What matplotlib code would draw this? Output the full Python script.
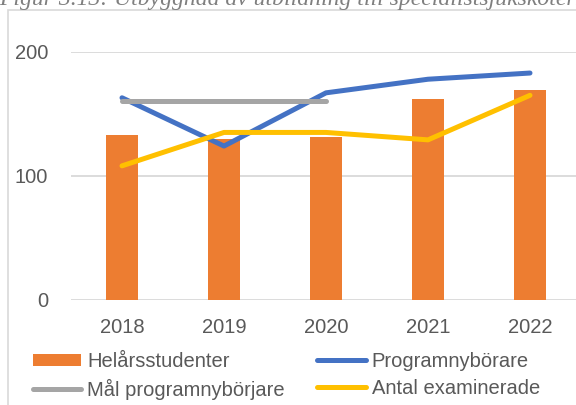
import numpy as np
import matplotlib.pyplot as plt
from matplotlib.patches import Rectangle

years = ["2018", "2019", "2020", "2021", "2022"]
helarsstudenter = [133, 130, 131, 162, 169]
programnyborare = [163, 124, 167, 178, 183]
mal_years = ["2018", "2019", "2020"]
mal_programnyborjare = [160, 160, 160]
antal_examinerade = [108, 135, 135, 129, 165]
yticks = [0, 100, 200]

plt.rcParams["font.family"] = ["Liberation Sans", "DejaVu Sans"]
TXT = "#595959"
FS = 14.5

fig = plt.figure(figsize=(5.76, 4.05), dpi=100)
W, H = 576, 405
ax = fig.add_axes([71 / W, 1 - 299.5 / H, 510 / W, 247.5 / H])

x = np.arange(len(years))
xm = np.arange(len(mal_years))

bars = ax.bar(x, helarsstudenter, width=0.31, color="#ED7D31", zorder=2,
              label="Helårsstudenter")
lw = 3.6
l_blue, = ax.plot(x, programnyborare, color="#4472C4", lw=lw, zorder=3,
                  solid_capstyle="round", solid_joinstyle="round",
                  label="Programnybörare")
l_gray, = ax.plot(xm, mal_programnyborjare, color="#A5A5A5", lw=lw, zorder=4,
                  solid_capstyle="round", label="Mål programnybörjare")
l_yel, = ax.plot(x, antal_examinerade, color="#FFC000", lw=lw, zorder=5,
                 solid_capstyle="round", solid_joinstyle="round",
                 label="Antal examinerade")

ax.set_xlim(-0.5, len(years) - 0.5)
ax.set_ylim(0, 200)
ax.set_yticks(yticks)
ax.set_xticks(x)
ax.set_xticklabels(years)
ax.yaxis.grid(True, color="#D9D9D9", lw=1.3, zorder=0)
ax.set_axisbelow(True)
for s in ax.spines.values():
    s.set_visible(False)
ax.tick_params(axis="both", length=0, labelsize=FS, labelcolor=TXT)
ax.tick_params(axis="y", pad=16.5)
ax.tick_params(axis="x", pad=13)

fig.legend([bars, l_gray, l_blue, l_yel],
           ["Helårsstudenter", "Mål programnybörjare", "Programnybörare", "Antal examinerade"],
           ncol=2, loc="upper left", bbox_to_anchor=(33 / W, 1 - 352 / H),
           frameon=False, fontsize=FS, labelcolor=TXT, borderpad=0,
           borderaxespad=0, handlelength=2.4, handleheight=0.6,
           handletextpad=0.3, columnspacing=1.6, labelspacing=0.4)

# chart border (cropped screenshot)
fig.patches.append(Rectangle((8 / W, -0.2), 1.2, 1.2 - 10 / H,
                             transform=fig.transFigure, fill=False,
                             edgecolor="#D9D9D9", lw=1.2, zorder=0))

fig.text(-1 / W, 1 - 5 / H, "Figur 3.13: Utbyggnad av utbildning till specialistsjuksköterskeutbildning",
         family="Liberation Serif", style="italic", fontsize=17, color="#7F7F7F",
         ha="left", va="baseline")

fig.savefig("out.png", dpi=100)
